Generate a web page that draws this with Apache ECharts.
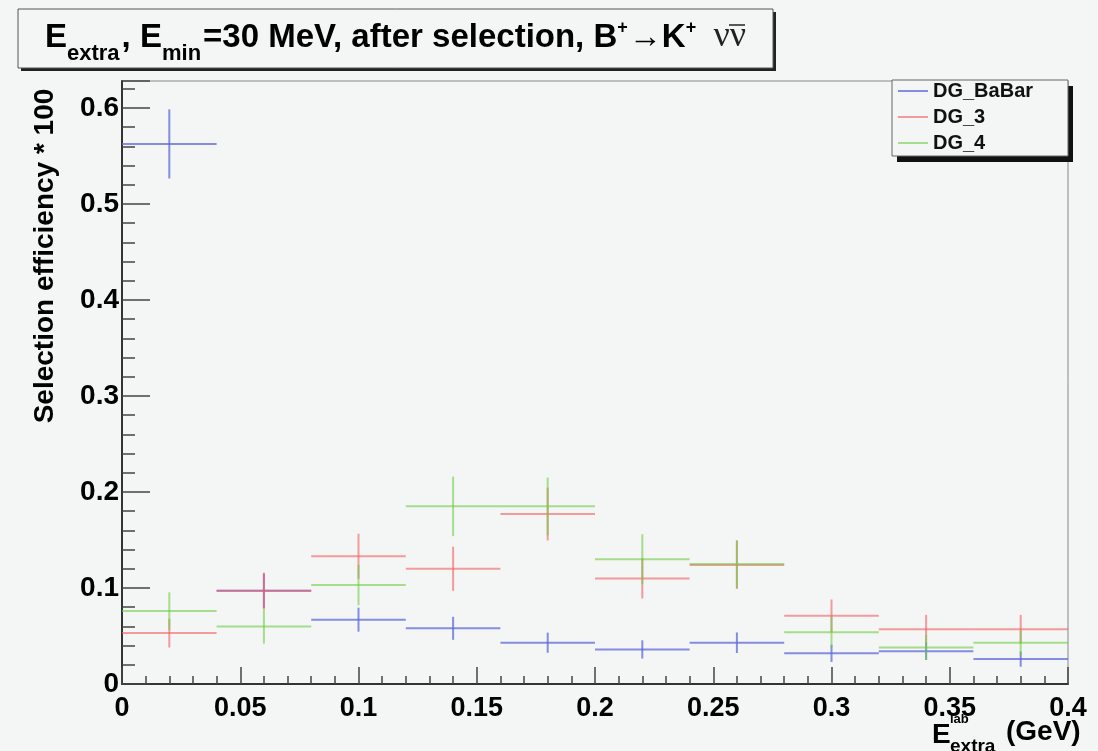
<!DOCTYPE html>
<html>
<head>
<meta charset="utf-8">
<script src="https://cdn.jsdelivr.net/npm/echarts@6/dist/echarts.min.js"></script>
<style>
html,body{margin:0;padding:0;background:#f4f5f5;}
#chart{width:1098px;height:751px;}
</style>
</head>
<body>
<div id="chart"></div>
<script>
// ---- data ----
const xCenters = [0.02, 0.06, 0.10, 0.14, 0.18, 0.22, 0.26, 0.30, 0.34, 0.38];
const binHalfWidth = 0.02;
const seriesNames = ['DG_BaBar', 'DG_3', 'DG_4'];
const babarVals = [0.5625, 0.097, 0.067, 0.058, 0.043, 0.036, 0.043, 0.032, 0.034, 0.026];
const babarErrs = [0.036, 0.018, 0.0125, 0.012, 0.0105, 0.0095, 0.0107, 0.009, 0.009, 0.008];
const dg3Vals = [0.053, 0.097, 0.133, 0.120, 0.177, 0.110, 0.124, 0.071, 0.057, 0.057];
const dg3Errs = [0.015, 0.019, 0.0235, 0.023, 0.0275, 0.021, 0.025, 0.017, 0.015, 0.015];
const dg4Vals = [0.076, 0.060, 0.103, 0.185, 0.185, 0.130, 0.125, 0.054, 0.038, 0.043];
const dg4Errs = [0.0195, 0.018, 0.021, 0.031, 0.030, 0.026, 0.025, 0.016, 0.013, 0.013];
const yTicks = [0, 0.1, 0.2, 0.3, 0.4, 0.5, 0.6];
const xTicks = [0, 0.05, 0.1, 0.15, 0.2, 0.25, 0.3, 0.35, 0.4];

const colors = ['rgba(95,105,220,0.75)', 'rgba(242,95,95,0.6)', 'rgba(110,205,70,0.6)'];
const FONT = '"Liberation Sans", Arial, Helvetica, sans-serif';
const SERIF = '"Liberation Serif", "DejaVu Serif", serif';

function makeSeries(name, vals, errs, color) {
  return {
    type: 'custom',
    name: name,
    itemStyle: { color: color },
    encode: { x: 0, y: 1 },
    data: xCenters.map((x, i) => [x, vals[i], errs[i], binHalfWidth]),
    renderItem: function (params, api) {
      const x = api.value(0), y = api.value(1), e = api.value(2), hw = api.value(3);
      const l = api.coord([x - hw, y]), r = api.coord([x + hw, y]);
      const t = api.coord([x, y + e]), b = api.coord([x, y - e]);
      return {
        type: 'group',
        children: [
          { type: 'line', shape: { x1: l[0], y1: l[1], x2: r[0], y2: r[1] }, style: { stroke: color, lineWidth: 2 } },
          { type: 'line', shape: { x1: t[0], y1: t[1], x2: b[0], y2: b[1] }, style: { stroke: color, lineWidth: 2 } }
        ]
      };
    }
  };
}

const chart = echarts.init(document.getElementById('chart'), null, { renderer: 'canvas' });
const bg = '#f4f5f5';
const txt = (extra) => Object.assign({ fontWeight: 'bold', fontFamily: FONT, fill: '#000' }, extra);
const option = {
  backgroundColor: bg,
  animation: false,
  grid: { left: 122, right: 30, top: 81, bottom: 67, show: true, borderColor: '#888', borderWidth: 1, backgroundColor: bg },
  xAxis: {
    type: 'value', min: 0, max: 0.4, interval: 0.05,
    axisLine: { onZero: false, lineStyle: { color: '#333', width: 2 } },
    axisTick: { inside: true, length: 17, lineStyle: { color: '#444', width: 1.5 } },
    minorTick: { show: true, splitNumber: 5, length: 8, lineStyle: { color: '#444', width: 1.5 } },
    splitLine: { show: false },
    axisLabel: {
      color: '#000', fontWeight: 'bold', fontSize: 27, fontFamily: FONT, margin: 11,
      formatter: v => { const m = xTicks.find(t => Math.abs(t - v) < 1e-9); return m === undefined ? '' : String(m); }
    }
  },
  yAxis: {
    type: 'value', min: 0, max: 0.628, interval: 0.1,
    axisLine: { onZero: false, lineStyle: { color: '#333', width: 2 } },
    axisTick: { inside: true, length: 28, lineStyle: { color: '#444', width: 1.5 } },
    minorTick: { show: true, splitNumber: 5, length: 13, lineStyle: { color: '#444', width: 1.5 } },
    splitLine: { show: false },
    axisLabel: {
      color: '#000', fontWeight: 'bold', fontSize: 28, fontFamily: FONT, margin: 3, showMaxLabel: false,
      formatter: v => { const m = yTicks.find(t => Math.abs(t - v) < 1e-9); return m === undefined ? '' : String(m); }
    }
  },
  legend: {
    left: 898, top: 81, orient: 'vertical', itemGap: 6, padding: 0,
    icon: 'rect', itemWidth: 30, itemHeight: 2,
    textStyle: { color: '#111', fontWeight: 'bold', fontSize: 20, fontFamily: FONT },
    data: seriesNames, z: 10
  },
  graphic: [
    // title box with shadow
    { type: 'rect', z: 1, shape: { x: 21, y: 12, width: 755, height: 59 }, style: { fill: '#222' } },
    { type: 'rect', z: 2, shape: { x: 18, y: 9, width: 755, height: 59 }, style: { fill: bg, stroke: '#555', lineWidth: 1 } },
    {
      type: 'text', z: 3, x: 45, y: 19,
      style: {
        text: '{m|E}{s|extra}{m|, E}{s|min}{m|=30 MeV, after selection, B}{p|+}{m|→K}{p|+}',
        rich: {
          m: txt({ fontSize: 33, lineHeight: 33, verticalAlign: 'top', padding: [2, 0, 0, 0] }),
          s: txt({ fontSize: 22, lineHeight: 22, verticalAlign: 'top', padding: [24, 2, 0, 0] }),
          p: txt({ fontSize: 18, lineHeight: 18, verticalAlign: 'top', padding: [0, 1, 0, 0] })
        }
      }
    },
    { type: 'text', z: 3, x: 746, y: 55, style: { text: 'νν', fontSize: 36, fontFamily: SERIF, fill: '#222', align: 'right', verticalAlign: 'bottom' } },
    { type: 'line', z: 3, shape: { x1: 729, y1: 25, x2: 745, y2: 25 }, style: { stroke: '#222', lineWidth: 1.5 } },
    // legend box with shadow
    { type: 'rect', z: 1, shape: { x: 897, y: 86, width: 176, height: 76 }, style: { fill: '#111' } },
    { type: 'rect', z: 2, shape: { x: 892, y: 80, width: 176, height: 76 }, style: { fill: bg, stroke: '#666', lineWidth: 1 } },
    // y axis title
    {
      type: 'text', z: 3, x: 45, y: 256, rotation: Math.PI / 2,
      style: txt({ text: 'Selection efficiency * 100', fontSize: 28, align: 'center', verticalAlign: 'middle' })
    },
    // x axis title
    { type: 'text', z: 3, x: 932, y: 749, style: txt({ text: 'E', fontSize: 28, verticalAlign: 'bottom' }) },
    { type: 'text', z: 3, x: 950, y: 726, style: txt({ text: 'lab', fontSize: 13, verticalAlign: 'bottom' }) },
    { type: 'text', z: 3, x: 950, y: 737, style: txt({ text: 'extra', fontSize: 19, verticalAlign: 'top' }) },
    { type: 'text', z: 3, x: 1006, y: 746, style: txt({ text: '(GeV)', fontSize: 28, verticalAlign: 'bottom' }) }
  ],
  series: [
    makeSeries(seriesNames[0], babarVals, babarErrs, colors[0]),
    makeSeries(seriesNames[1], dg3Vals, dg3Errs, colors[1]),
    makeSeries(seriesNames[2], dg4Vals, dg4Errs, colors[2])
  ]
};
chart.setOption(option);
</script>
</body>
</html>
